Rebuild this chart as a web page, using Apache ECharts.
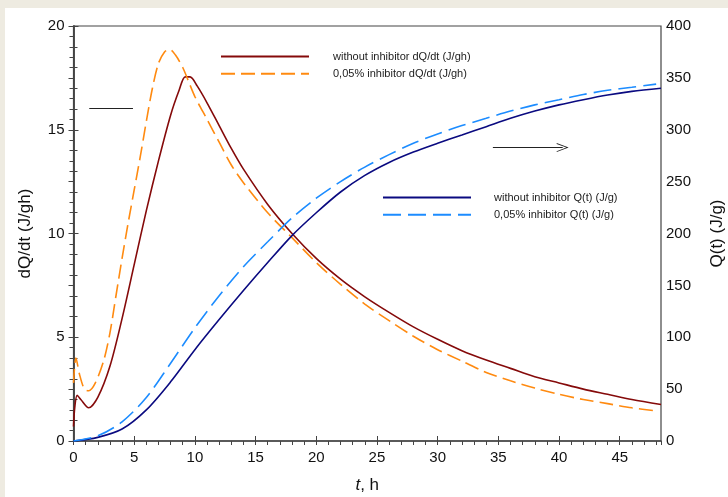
<!DOCTYPE html>
<html>
<head>
<meta charset="utf-8">
<script src="https://cdn.jsdelivr.net/npm/echarts@6/dist/echarts.min.js"></script>
<style>
  body { margin: 0; background: #eeebe1; }
  #chart { position: absolute; left: 5px; top: 8px; width: 723px; height: 489px; background: #fff; }
</style>
</head>
<body>
<div id="chart"></div>
<script>
// dQ/dt without inhibitor (J/gh)
var tRed = [0, 0.1, 0.3, 0.6, 1.25, 2, 3, 4, 5, 6, 7, 8, 8.7, 9.2, 9.6, 10.2, 11, 12, 13, 14, 16, 18, 20, 22, 24, 26, 28, 30, 32, 34, 36, 38, 40, 42, 44, 46, 48.4];
var vRed = [0.7, 1.6, 2.2, 2.0, 1.6, 2.1, 3.6, 5.9, 8.5, 11.1, 13.5, 15.7, 16.9, 17.55, 17.55, 17.1, 16.3, 15.2, 14.1, 13.1, 11.4, 10.0, 8.8, 7.8, 6.95, 6.2, 5.5, 4.9, 4.35, 3.9, 3.5, 3.1, 2.8, 2.5, 2.25, 2.0, 1.76];
// dQ/dt 0,05% inhibitor
var tOrange = [0, 0.2, 0.5, 0.9, 1.25, 1.8, 2.5, 3, 3.5, 4, 4.5, 5, 5.5, 6, 6.5, 7, 7.5, 7.9, 8.4, 9, 9.5, 10, 11, 12, 13, 14, 16, 18, 20, 22, 24, 26, 28, 30, 32, 34, 36, 38, 40, 42, 44, 46, 48];
var vOrange = [2.8, 4.0, 3.2, 2.5, 2.42, 2.8, 3.9, 5.2, 7.0, 8.8, 10.5, 12.1, 13.7, 15.4, 17.0, 18.2, 18.75, 18.88, 18.6, 18.0, 17.3, 16.6, 15.5, 14.4, 13.3, 12.45, 11.0, 9.8, 8.6, 7.55, 6.6, 5.8, 5.05, 4.4, 3.85, 3.3, 2.9, 2.55, 2.25, 2.0, 1.8, 1.6, 1.45];
// Q(t) without inhibitor (J/g)
var tNavy = [0, 2, 4, 6, 8, 10, 12, 14, 16, 18, 20, 22, 24, 26, 28, 30, 32, 34, 36, 38, 40, 42, 44, 46, 48.4];
var vNavy = [0, 3.5, 11.5, 30, 57, 88, 117, 145, 172, 198, 220, 240, 256, 268.5, 278.5, 287, 295, 303, 311, 318, 324, 329, 333.5, 337, 340];
// Q(t) 0,05% inhibitor
var tBlue = [0, 2, 4, 6, 8, 10, 12, 14, 16, 18, 20, 22, 24, 26, 28, 30, 32, 34, 36, 38, 40, 42, 44, 46, 48];
var vBlue = [0, 5, 18.5, 42, 75, 109, 140, 168, 192, 215, 234, 250, 264, 276, 287, 296, 304, 311, 318, 324, 329, 334, 338, 341, 344];

var names = [
  'without inhibitor dQ/dt (J/gh)',
  '0,05% inhibitor dQ/dt (J/gh)',
  'without inhibitor Q(t) (J/g)',
  '0,05% inhibitor Q(t) (J/g)'
];

function pairs(t, v) {
  var out = [];
  for (var i = 0; i < t.length; i++) out.push([t[i], v[i]]);
  return out;
}

var FONT = 'Liberation Sans';
var axisCol = '#444';

var chart = echarts.init(document.getElementById('chart'));
chart.setOption({
  animation: false,
  grid: {
    left: 68.5, right: 67, top: 18, bottom: 56, outerBoundsMode: 'none',
    show: true, borderColor: axisCol, borderWidth: 1.2
  },
  legend: [
    {
      data: [names[0], names[1]],
      orient: 'vertical', left: 210, top: 38,
      itemWidth: 88, itemHeight: 14, itemGap: 6,
      itemStyle: { opacity: 0 },
      textStyle: { fontFamily: FONT, fontSize: 11, color: '#222', padding: [0, 0, 0, 19] }
    },
    {
      data: [names[2], names[3]],
      orient: 'vertical', left: 372, top: 179,
      itemWidth: 88, itemHeight: 14, itemGap: 6,
      itemStyle: { opacity: 0 },
      textStyle: { fontFamily: FONT, fontSize: 11, color: '#222', padding: [0, 0, 0, 18] }
    }
  ],
  xAxis: [
    {
      type: 'value', min: 0, max: 48.4, interval: 5,
      name: '{i|t}, h', nameLocation: 'middle', nameGap: 36,
      nameTextStyle: { fontFamily: FONT, fontSize: 17, color: '#111', rich: { i: { fontFamily: FONT, fontSize: 17, fontStyle: 'italic', color: '#111' } } },
      axisLine: { lineStyle: { color: axisCol, width: 1.5 } },
      axisTick: { inside: true, length: 5, lineStyle: { color: axisCol } },
      axisLabel: { fontFamily: FONT, fontSize: 15, color: '#111', margin: 9, showMaxLabel: false },
      splitLine: { show: false }
    },
    {
      type: 'value', min: 0, max: 48.4, interval: 1,
      axisLine: { show: false },
      axisTick: { inside: true, length: 4, lineStyle: { color: axisCol } },
      axisLabel: { show: false },
      splitLine: { show: false }
    }
  ],
  yAxis: [
    {
      type: 'value', min: 0, max: 20, interval: 5,
      name: 'dQ/dt (J/gh)', nameLocation: 'middle', nameGap: 40, nameRotate: 90,
      nameTextStyle: { fontFamily: FONT, fontSize: 17, color: '#111' },
      axisLine: { show: true, lineStyle: { color: axisCol, width: 1.5 } },
      axisTick: { show: true, inside: true, length: 5, lineStyle: { color: axisCol } },
      minorTick: { show: true, splitNumber: 5, length: 4, lineStyle: { color: axisCol } },
      axisLabel: { fontFamily: FONT, fontSize: 15, color: '#111', margin: 9 },
      splitLine: { show: false }
    },
    {
      type: 'value', min: 0, max: 400, interval: 50, position: 'right',
      name: 'Q(t) (J/g)', nameLocation: 'middle', nameGap: 48, nameRotate: 90,
      nameTextStyle: { fontFamily: FONT, fontSize: 17, color: '#111' },
      axisLine: { show: true, lineStyle: { color: axisCol, width: 1.5 } },
      axisTick: { show: true, inside: true, length: 5, lineStyle: { color: axisCol } },
      minorTick: { show: true, splitNumber: 5, length: 4, lineStyle: { color: axisCol } },
      axisLabel: { fontFamily: FONT, fontSize: 15, color: '#111', margin: 5 },
      splitLine: { show: false }
    }
  ],
  series: [
    {
      name: names[0], type: 'line', yAxisIndex: 0, symbol: 'none', smooth: 0.3,
      data: pairs(tRed, vRed),
      lineStyle: { color: '#850a0a', width: 1.6 }, itemStyle: { color: '#850a0a' },
      markLine: {
        silent: true, symbol: ['none', 'none'], label: { show: false },
        lineStyle: { color: '#222', width: 1, type: 'solid' },
        data: [[{ coord: [1.3, 16.03] }, { coord: [4.9, 16.03] }]]
      }
    },
    {
      name: names[1], type: 'line', yAxisIndex: 0, symbol: 'none', smooth: 0.3,
      data: pairs(tOrange, vOrange),
      lineStyle: { color: '#ff8a10', width: 1.6, type: [14, 6] }, itemStyle: { color: '#ff8a10' }
    },
    {
      name: names[2], type: 'line', yAxisIndex: 1, symbol: 'none', smooth: 0.3,
      data: pairs(tNavy, vNavy),
      lineStyle: { color: '#0a0a80', width: 1.6 }, itemStyle: { color: '#0a0a80' },
      markLine: {
        silent: true, label: { show: false },
        symbol: ['none', 'path://M0,10 L5,0 L10,10 L9,10 L5,2 L1,10 Z'],
        symbolSize: [9, 12], symbolOffset: [0, 0],
        lineStyle: { color: '#222', width: 1, type: 'solid' },
        data: [[{ coord: [34.55, 282.8] }, { coord: [40.3, 282.8] }]]
      }
    },
    {
      name: names[3], type: 'line', yAxisIndex: 1, symbol: 'none', smooth: 0.3,
      data: pairs(tBlue, vBlue),
      lineStyle: { color: '#1c8cff', width: 1.6, type: [18, 7] }, itemStyle: { color: '#1c8cff' }
    }
  ]
});
</script>
</body>
</html>
